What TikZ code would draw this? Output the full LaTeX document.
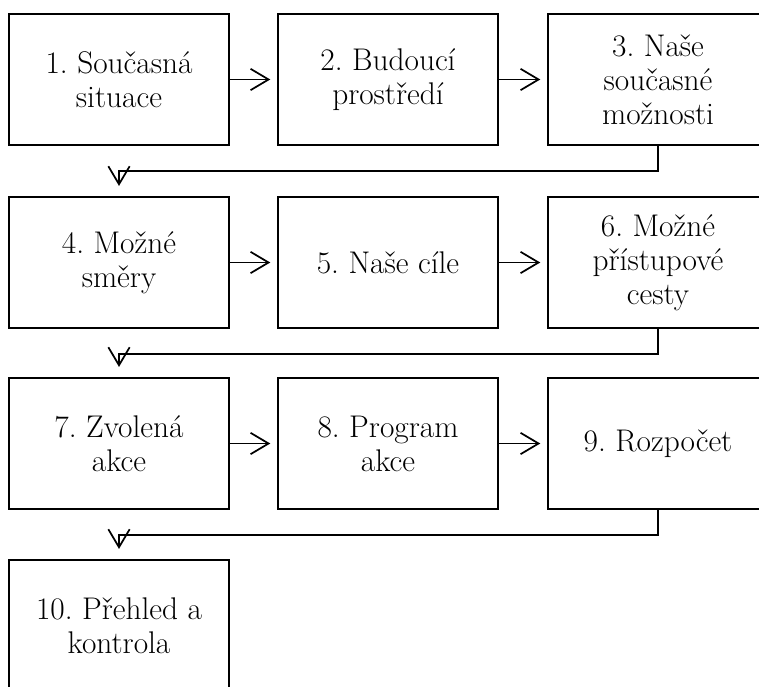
\documentclass[tikz,border=0pt]{standalone}
\usepackage{tikz}
\usetikzlibrary{arrows.meta}

\begin{document}
\begin{tikzpicture}[x=0.75pt,y=0.75pt,
    box/.style={draw, line width=1.6pt, minimum width=165pt, minimum height=98.25pt, inner sep=0pt, align=center, font=\fontsize{23.5}{25.5}\selectfont\frenchspacing},
    flow/.style={line width=1.2pt, -{Straight Barb[length=13.5pt,width=16pt,line width=1.3pt]}}]
    \useasboundingbox (0,0) rectangle (759,686);
    \clip (0,0) rectangle (759,686);
    
    % three rows of steps, the last one runs off the page
    \foreach \n/\x/\y/\t in {1/119/606.5/{1. Současná\\situace}, 2/388/606.5/{2. Budoucí\\prostředí}, 3/658/606.5/{3. Naše\\současné\\možnosti},
                            4/119/423.5/{4. Možné\\směry}, 5/388/423.5/{5. Naše cíle}, 6/658/423.5/{6. Možné\\přístupové\\cesty},
                            7/119/242.5/{7. Zvolená\\akce}, 8/388/242.5/{8. Program\\akce}, 9/658/242.5/{9. Rozpočet},
                            10/119/60.5/{10. Přehled a\\kontrola}} {
        \node[box] (b\n) at (\x,\y) {\t};
    }
    
    \foreach \a/\b in {b1/b2, b2/b3, b4/b5, b5/b6, b7/b8, b8/b9} \draw[flow, shorten >=5pt] (\a) -- (\b);
    \foreach \a/\b in {b3/b4, b6/b7, b9/b10} \draw[flow, shorten >=7.5pt] (\a.south) -- ++(0,-25) -| (\b.north);
\end{tikzpicture}
\end{document}
